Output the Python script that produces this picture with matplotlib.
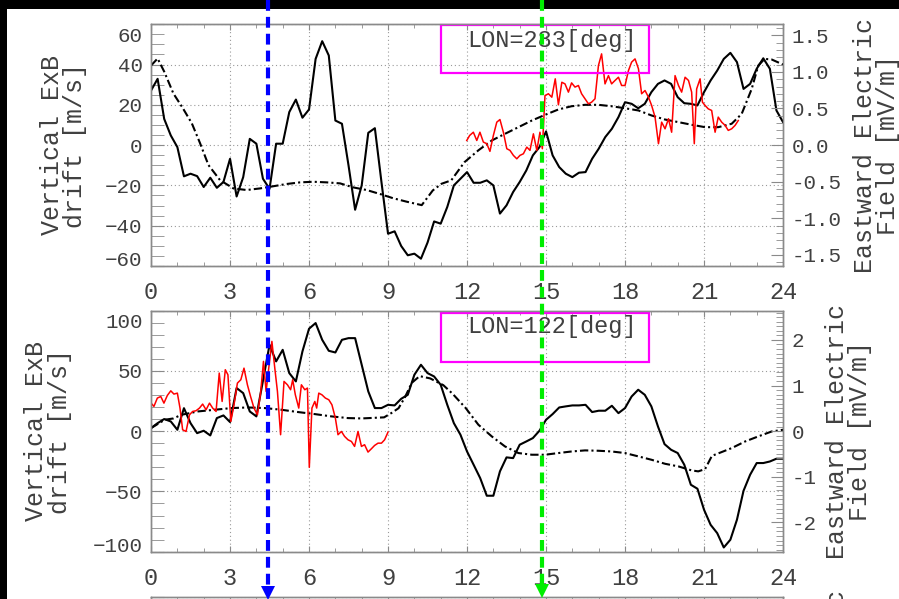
import numpy as np
import matplotlib
matplotlib.use('Agg')
from matplotlib import pyplot as plt
from matplotlib.lines import Line2D
from matplotlib.patches import Rectangle
from matplotlib.ticker import MultipleLocator, FormatStrFormatter
import matplotlib.transforms as mtransforms

plt.rcParams['font.family'] = ['Liberation Mono', 'DejaVu Sans Mono']

# local time grid of the measured drifts (every 15 min)
lt_grid = np.arange(0, 24.01, 0.25)

# ---- LON=283 ----
drift_283 = [27.1, 32.9, 13, 4.8, -1, -15.5, -14.2, -15.4, -20.8, -16.2, -21.2, -18.3,
             -6.8, -25.5, -15.9, 3.1, 0.7, -16.7, -21.7, 0.7, 0.7, 16.4, 22.6, 13.6,
             17.7, 42.8, 51.6, 44.5, 12.2, 10.6, -10.1, -32.1, -20, 6.1, 8.4, -18.3,
             -44, -42.8, -50.1, -54.7, -53.9, -56.4, -48.4, -37.9, -39, -30.7, -20, -16.7,
             -13.4, -18.7, -18.7, -17.5, -20, -34, -29.9, -23.3, -18.3, -12.6, -5.1, -1,
             6.8, -5.1, -10.9, -14.2, -15.9, -13.7, -13.4, -6.8, -1.8, 4, 8.1, 13.9,
             21.3, 20.5, 18.3, 20.5, 26.3, 30.4, 32.1, 30.4, 23.8, 20.8, 20.5, 19.7,
             26.3, 32.1, 37, 42.8, 45.8, 41.2, 27.9, 30.4, 37.9, 43.1, 37.9, 17.2, 11.4]

model_283_lt = [0, 0.25, 0.5, 0.85, 1.2, 1.55, 1.86, 2.18, 2.62, 3.13, 3.63, 4.14, 4.52,
                5.15, 5.66, 6.16, 6.67, 7.18, 7.68, 8.19, 8.7, 9.2, 9.71, 10.28, 10.7,
                11.03, 11.4, 11.9, 12.43, 12.94, 13.44, 13.95, 14.46, 14.96, 15.47, 15.97,
                16.48, 16.99, 17.49, 18.0, 18.51, 19.01, 19.52, 20.03, 20.53, 21.04, 21.54,
                22.05, 22.43, 22.81, 23.06, 23.3, 23.57, 24.0]
model_283 = [39.5, 43, 36.5, 25.6, 18.5, 10.8, 1, -9.9, -17.4, -21.5, -22.3, -21.5, -20.7,
             -19.3, -18.5, -18.2, -18.5, -19, -21, -22.3, -24.3, -26.4, -28.1, -29.8, -22.5,
             -19.2, -17.5, -8.5, -2.6, 2.3, 5.6, 8.9, 12.2, 15, 17.7, 19.3,
             20, 20, 19.3, 18.3, 17.2, 14.7, 12.7, 11.4, 10.1, 8.9, 8.9,
             10.6, 15.5, 27.9, 39.5, 42.8, 42.5, 40]

obs_283_lt = [11.99, 12.1, 12.24, 12.37, 12.49, 12.62, 12.75, 12.87, 13.0, 13.13, 13.25,
              13.38, 13.51, 13.63, 13.76, 13.89, 14.01, 14.14, 14.27, 14.39, 14.52, 14.65,
              14.77, 14.86, 14.96, 15.09, 15.22, 15.35, 15.47, 15.6, 15.72, 15.85, 15.97,
              16.1, 16.23, 16.35, 16.48, 16.61, 16.73, 16.86, 16.99, 17.11, 17.24, 17.37,
              17.49, 17.62, 17.75, 17.87, 18.0, 18.13, 18.25, 18.38, 18.51, 18.63, 18.76,
              18.89, 19.01, 19.14, 19.27, 19.39, 19.52, 19.65, 19.77, 19.9, 20.03, 20.15,
              20.28, 20.41, 20.53, 20.63, 20.72, 20.85, 20.94, 21.04, 21.16, 21.29, 21.42,
              21.54, 21.67, 21.8, 21.92, 22.05, 22.18, 22.3]
obs_283 = [2.3, 4.8, 6.4, 2.3, 6.4, 1.5, 0.7, -3.1, 4.8, 11.4, 12.7,
           6.4, -1.8, -2.6, -5.1, -6.8, -5.1, -4.3, -1, -2.6, 5.6, -2.6,
           6.4, -1.8, 24.6, 25.5, 23.8, 32.9, 20, 31.2, 30.4, 26.3, 30.9,
           28.8, 29.6, 25.5, 23, 20.5, 21.3, 23, 39.5, 45.3, 30.4, 34.5,
           30.4, 32.1, 33.7, 29.6, 29.6, 37, 41.2, 42.8, 37.9, 25.5, 27.1,
           23.8, 19.7, 13.9, 0.7, 11.4, 8.1, 13.1, 6.4, 34.5, 29.6, 26.3,
           33.7, 32.1, 26.3, 0.7, 27.9, 32.9, 21.3, 19.7, 18, 17.2, 6.4,
           13.9, 11.4, 9.8, 7.3, 8.1, 9.8, 12.2]

# ---- LON=122 ----
drift_122 = [2.5, 6.6, 10, 8, 1.1, 19, 6.6, -1.7, 0.3, -3.6, 10.8, 13,
             7.5, 35.7, 31.5, 16.3, 12.2, 41.7, 71.6, 57.8, 67.4, 48.1, 41.2, 66.1,
             84.9, 89.6, 75.7, 66.6, 65.2, 75.7, 77.1, 77.1, 55, 32.9, 19.1, 19.1,
             21.8, 21.3, 26.8, 30.1, 46.7, 55, 48.1, 45.3, 38.4, 21.8, 6.6, -3,
             -16.9, -27.9, -39, -53.6, -53.6, -33.4, -21.8, -22.4, -11.3, -8.6, -5.8, 0.3,
             9.4, 14.1, 19.6, 20.5, 21.3, 21.3, 21.8, 15.8, 16.9, 16.9, 21, 14.9,
             19.1, 28.7, 34.3, 30.1, 20.5, 3.9, -10.8, -15.5, -18.2, -27.9, -44.5, -47.8,
             -65.2, -77.7, -84.6, -96.5, -90.1, -73.5, -49.5, -36.2, -26.5, -26.5, -25.2, -22.9, -22.9]

model_122_lt = [0, 0.52, 0.85, 1.15, 1.78, 2.42, 3.05, 3.68, 4.32, 4.95, 5.58, 6.22, 6.85,
                7.48, 8.0, 8.85, 9.13, 9.4, 9.65, 9.9, 10.2, 10.6, 11.1, 11.45, 11.95,
                12.43, 12.94, 13.44, 13.95, 14.46, 14.96, 15.47, 15.97, 16.48, 16.99, 17.49,
                18.0, 18.51, 19.01, 19.52, 20.03, 20.53, 20.78, 21.04, 21.3, 21.54, 22.05,
                22.56, 23.06, 23.57, 24.0]
model_122 = [2.5, 9.4, 10.5, 13.5, 16.3, 17.7, 19.1, 19.6, 19.1, 17.7, 15.8, 14.1, 12.2,
             10.8, 10.5, 11.4, 15, 19, 28.4, 40, 45.6, 43.7, 38.1, 31, 19.1,
             5.3, -4.4, -12.7, -18.2, -19.6, -19.6, -18.2, -16.9, -16, -16.3, -16.9,
             -18.2, -21, -23.8, -27.1, -29.3, -32.6, -33.4, -31.5, -20.5, -18.5, -14.1,
             -8.6, -4.4, -0.3, 1.1]

obs_122_lt = [0, 0.11, 0.24, 0.37, 0.49, 0.62, 0.75, 0.87, 1.0, 1.1, 1.2, 1.33, 1.46, 1.58,
              1.71, 1.84, 1.96, 2.09, 2.22, 2.34, 2.47, 2.59, 2.7, 2.82, 2.92, 3.03, 3.15,
              3.28, 3.41, 3.53, 3.66, 3.78, 3.91, 4.04, 4.16, 4.27, 4.37, 4.47, 4.59, 4.7,
              4.8, 4.92, 5.05, 5.18, 5.3, 5.38, 5.48, 5.61, 5.71, 5.84, 5.94, 6.01, 6.11,
              6.22, 6.29, 6.37, 6.49, 6.62, 6.75, 6.87, 7.0, 7.1, 7.23, 7.35, 7.48, 7.61,
              7.73, 7.86, 7.99, 8.11, 8.24, 8.37, 8.49, 8.62, 8.75, 8.87, 9.0]
obs_122 = [23.2, 20.5, 27.4, 28.7, 23.2, 29.6, 33.4, 30.7, 31.5, 19.1, 1.1, -0.3, 13.5, 16.3,
           16.9, 19.1, 22.4, 17.7, 23.2, 19.1, 16.3, 48.1, 24.6, 50.9, 46.7, 8, 21.8,
           39.8, 42.6, 52.2, 38.4, 28.7, 19.1, 13.5, 31.5, 57.8, 32.9, 52.2, 74.4, 52.2,
           32.9, -3, 41.2, 38.4, 34.3, 42.6, 30.1, 19.1, 38.4, 34.3, 35.7, -30.1, 19.1,
           24.6, 19.1, 31.5, 30.1, 27.4, 26, 21.8, 10.8, -3, -0.3, -4.4, -7.2, -8.6,
           -12.7, -0.3, -12.7, -11.3, -17.4, -14.6, -11.9, -10, -10, -7.2, -0.8]

# marked local times
lt_blue = 4.45
lt_green = 14.85

TXT = '#404040'
GRAY = '#8a8a8a'


def style_panel(fig, ax, ylim, ymaj, ymin, rlim, rmaj, rmin, rfmt, lab_x, rlab_x, left_label=True):
    ax.set_xlim(0, 24)
    ax.set_ylim(*ylim)
    ax.xaxis.set_major_locator(MultipleLocator(3))
    ax.xaxis.set_minor_locator(MultipleLocator(1))
    ax.set_yticks(np.arange(ylim[0], ylim[1] + 0.1, ymaj))
    ax.yaxis.set_minor_locator(MultipleLocator(ymin))
    ax.tick_params(axis='x', which='both', direction='in', top=True, bottom=True,
                   color=GRAY, labelcolor=TXT, labelsize=17, pad=11)
    ax.tick_params(axis='x', which='major', length=4)
    ax.tick_params(axis='x', which='minor', length=3)
    ax.tick_params(axis='y', which='both', direction='in', left=True, right=False,
                   color=GRAY, labelcolor=TXT, labelsize=15, pad=6, length=9)
    ax.grid(True, which='major', color='#9a9a9a', linestyle=(0, (1, 2.5)), linewidth=0.8)
    for s in ax.spines.values():
        s.set_color(GRAY)
        s.set_linewidth(1)
    # end labels are kept inside the axis range, as in the original plot
    ticks = ax.yaxis.get_major_ticks()
    for tk, dy in [(ticks[0], 7), (ticks[-1], -10)]:
        tk.label1.set_transform(tk.label1.get_transform() +
                                mtransforms.ScaledTranslation(0, dy / 100, fig.dpi_scale_trans))
    if left_label:
        ax.text(lab_x, 0.5, 'Vertical ExB\ndrift [m/s]', rotation=90, transform=ax.transAxes,
                ha='center', va='center', fontsize=18, color=TXT, linespacing=0.95)

    rax = ax.twinx()
    rax.set_ylim(*rlim)
    rax.yaxis.set_major_locator(MultipleLocator(rmaj))
    rax.yaxis.set_minor_locator(MultipleLocator(rmin))
    rax.yaxis.set_major_formatter(FormatStrFormatter(rfmt))
    rax.tick_params(axis='y', which='both', direction='in', color=GRAY, labelcolor=TXT,
                    labelsize=15, pad=6)
    rax.tick_params(axis='y', which='major', length=9)
    rax.tick_params(axis='y', which='minor', length=5)
    for s in rax.spines.values():
        s.set_color(GRAY)
        s.set_linewidth(1)
    ax.text(rlab_x, 0.5, 'Eastward Electric\nField [mV/m]', rotation=90, transform=ax.transAxes,
            ha='center', va='center', fontsize=18, color=TXT, linespacing=0.95)
    return rax


fig = plt.figure(figsize=(8.99, 5.99), dpi=100, facecolor='black')
fig.add_artist(Rectangle((7 / 899, 0), 1, (599 - 9) / 599, transform=fig.transFigure,
                         facecolor='white', edgecolor='none', zorder=-10))

ax1 = fig.add_axes([0.168, 0.556, 0.703, 0.4035])
ax2 = fig.add_axes([0.168, 0.079, 0.703, 0.4026])
ax3 = fig.add_axes([0.168, 0.0038 - 0.4026, 0.703, 0.4026])

style_panel(fig, ax1, (-60, 60), 20, 5, (-1.65, 1.65), 0.5, 0.1, '%.1f', -0.139, 1.148)
style_panel(fig, ax2, (-100, 100), 50, 10, (-2.645, 2.645), 1, 0.1, '%d', -0.163, 1.103)
style_panel(fig, ax3, (-100, 100), 50, 10, (-2.645, 2.645), 1, 0.1, '%d', -0.163, 1.103,
            left_label=False)
ax3.tick_params(axis='x', labelbottom=False)

dashdot = (0, (4, 1.5, 1, 1.5))

ax1.plot(lt_grid, drift_283, color='black', lw=1.5, zorder=3)
ax1.plot(model_283_lt, model_283, color='black', lw=1.5, linestyle=dashdot, zorder=3)
ax1.plot(obs_283_lt, obs_283, color='red', lw=1.1, zorder=4)
ax1.add_patch(Rectangle((11.0, 36), 7.9, 23.7, fill=False, edgecolor='#ff00ff', lw=1.6,
                        clip_on=False, zorder=5))
ax1.text(12.0, 52, 'LON=283[deg]', fontsize=17, color=TXT, ha='left', va='center', zorder=6)

ax2.plot(lt_grid, drift_122, color='black', lw=1.5, zorder=3)
ax2.plot(model_122_lt, model_122, color='black', lw=1.5, linestyle=dashdot, zorder=3)
ax2.plot(obs_122_lt, obs_122, color='red', lw=1.1, zorder=4)
ax2.add_patch(Rectangle((11.0, 57.5), 7.9, 40.6, fill=False, edgecolor='#ff00ff', lw=1.6,
                        clip_on=False, zorder=5))
ax2.text(12.0, 86.5, 'LON=122[deg]', fontsize=17, color=TXT, ha='left', va='center', zorder=6)

# dashed arrows marking the two local times across the panels
trans = mtransforms.blended_transform_factory(ax1.transData, fig.transFigure)
for lt, col, tip in [(lt_blue, '#0000ff', 0.0), (lt_green, '#00ee00', 2 / 599)]:
    fig.add_artist(Line2D([lt, lt], [1.0, tip + 12 / 599], transform=trans, color=col,
                          lw=3, linestyle=(0, (2.6, 1.45)), zorder=20))
    fig.add_artist(Line2D([lt], [tip + 6.5 / 599], transform=trans, color=col, marker='v',
                          markersize=9.5, markeredgewidth=0, linestyle='none', zorder=21))

fig.savefig('out.png', dpi=100, facecolor=fig.get_facecolor())
